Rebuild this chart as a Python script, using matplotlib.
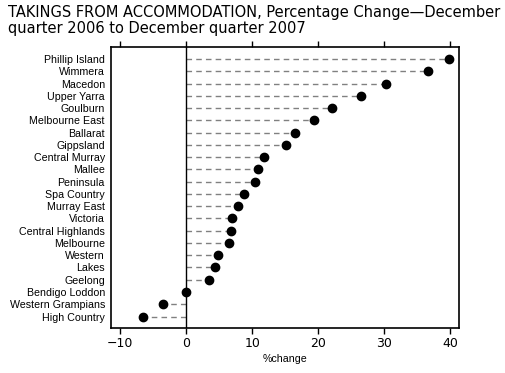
import matplotlib
matplotlib.use("Agg")
import matplotlib.pyplot as plt
from matplotlib import font_manager

regions = ["Phillip Island", "Wimmera", "Macedon", "Upper Yarra", "Goulburn",
           "Melbourne East", "Ballarat", "Gippsland", "Central Murray", "Mallee",
           "Peninsula", "Spa Country", "Murray East", "Victoria", "Central Highlands",
           "Melbourne", "Western", "Lakes", "Geelong", "Bendigo Loddon",
           "Western Grampians", "High Country"]
changes = [39.9, 36.7, 30.3, 26.5, 22.1, 19.3, 16.5, 15.1, 11.8, 10.9,
           10.4, 8.8, 7.9, 7.0, 6.7, 6.5, 4.8, 4.3, 3.4, 0.0, -3.5, -6.5]
xticks = [-10, 0, 10, 20, 30, 40]

names = {f.name for f in font_manager.fontManager.ttflist}
if "Liberation Sans Narrow" in names:
    narrow, lsize = "Liberation Sans Narrow", 9
else:
    narrow, lsize = "Liberation Sans", 7.7

fig = plt.figure(figsize=(5.05, 3.73), dpi=100)
ax = fig.add_axes([110.5/505, 1-328.3/373, (459.3-110.5)/505, (328.3-47.3)/373])

n = len(regions)
ypos = list(range(n))
for y, v in zip(ypos, changes):
    ax.plot([0, v], [y, y], color="#808080", lw=1.0, ls=(0, (4, 3)), zorder=1)
ax.axvline(0, color="black", lw=1.0, zorder=2)
ax.plot(changes, ypos, "o", color="black", ms=6, zorder=3)

ax.set_ylim(n - 1 + 0.96, -0.96)
ax.set_xlim(-11.5, 41.4)
ax.set_yticks(ypos)
ax.set_yticklabels(regions, fontfamily=narrow, fontsize=lsize)
ax.set_xticks(xticks)
ax.set_xticklabels(["\u2212" + str(-t) if t < 0 else str(t) for t in xticks],
                   fontfamily="DejaVu Sans", fontsize=9)
ax.tick_params(axis="y", length=0, pad=4)
ax.tick_params(axis="x", direction="out", length=4, width=1, top=True, pad=2)
for s in ax.spines.values():
    s.set_linewidth(1.2)
ax.set_xlabel("%change", fontfamily=narrow, fontsize=lsize, labelpad=3)

fig.text(8/505, 1-5/373, "TAKINGS FROM ACCOMMODATION, Percentage Change\u2014December\nquarter 2006 to December quarter 2007",
         ha="left", va="top", fontfamily="DejaVu Sans", fontsize=10.5, linespacing=1.1)

fig.savefig("out.png", dpi=100)
